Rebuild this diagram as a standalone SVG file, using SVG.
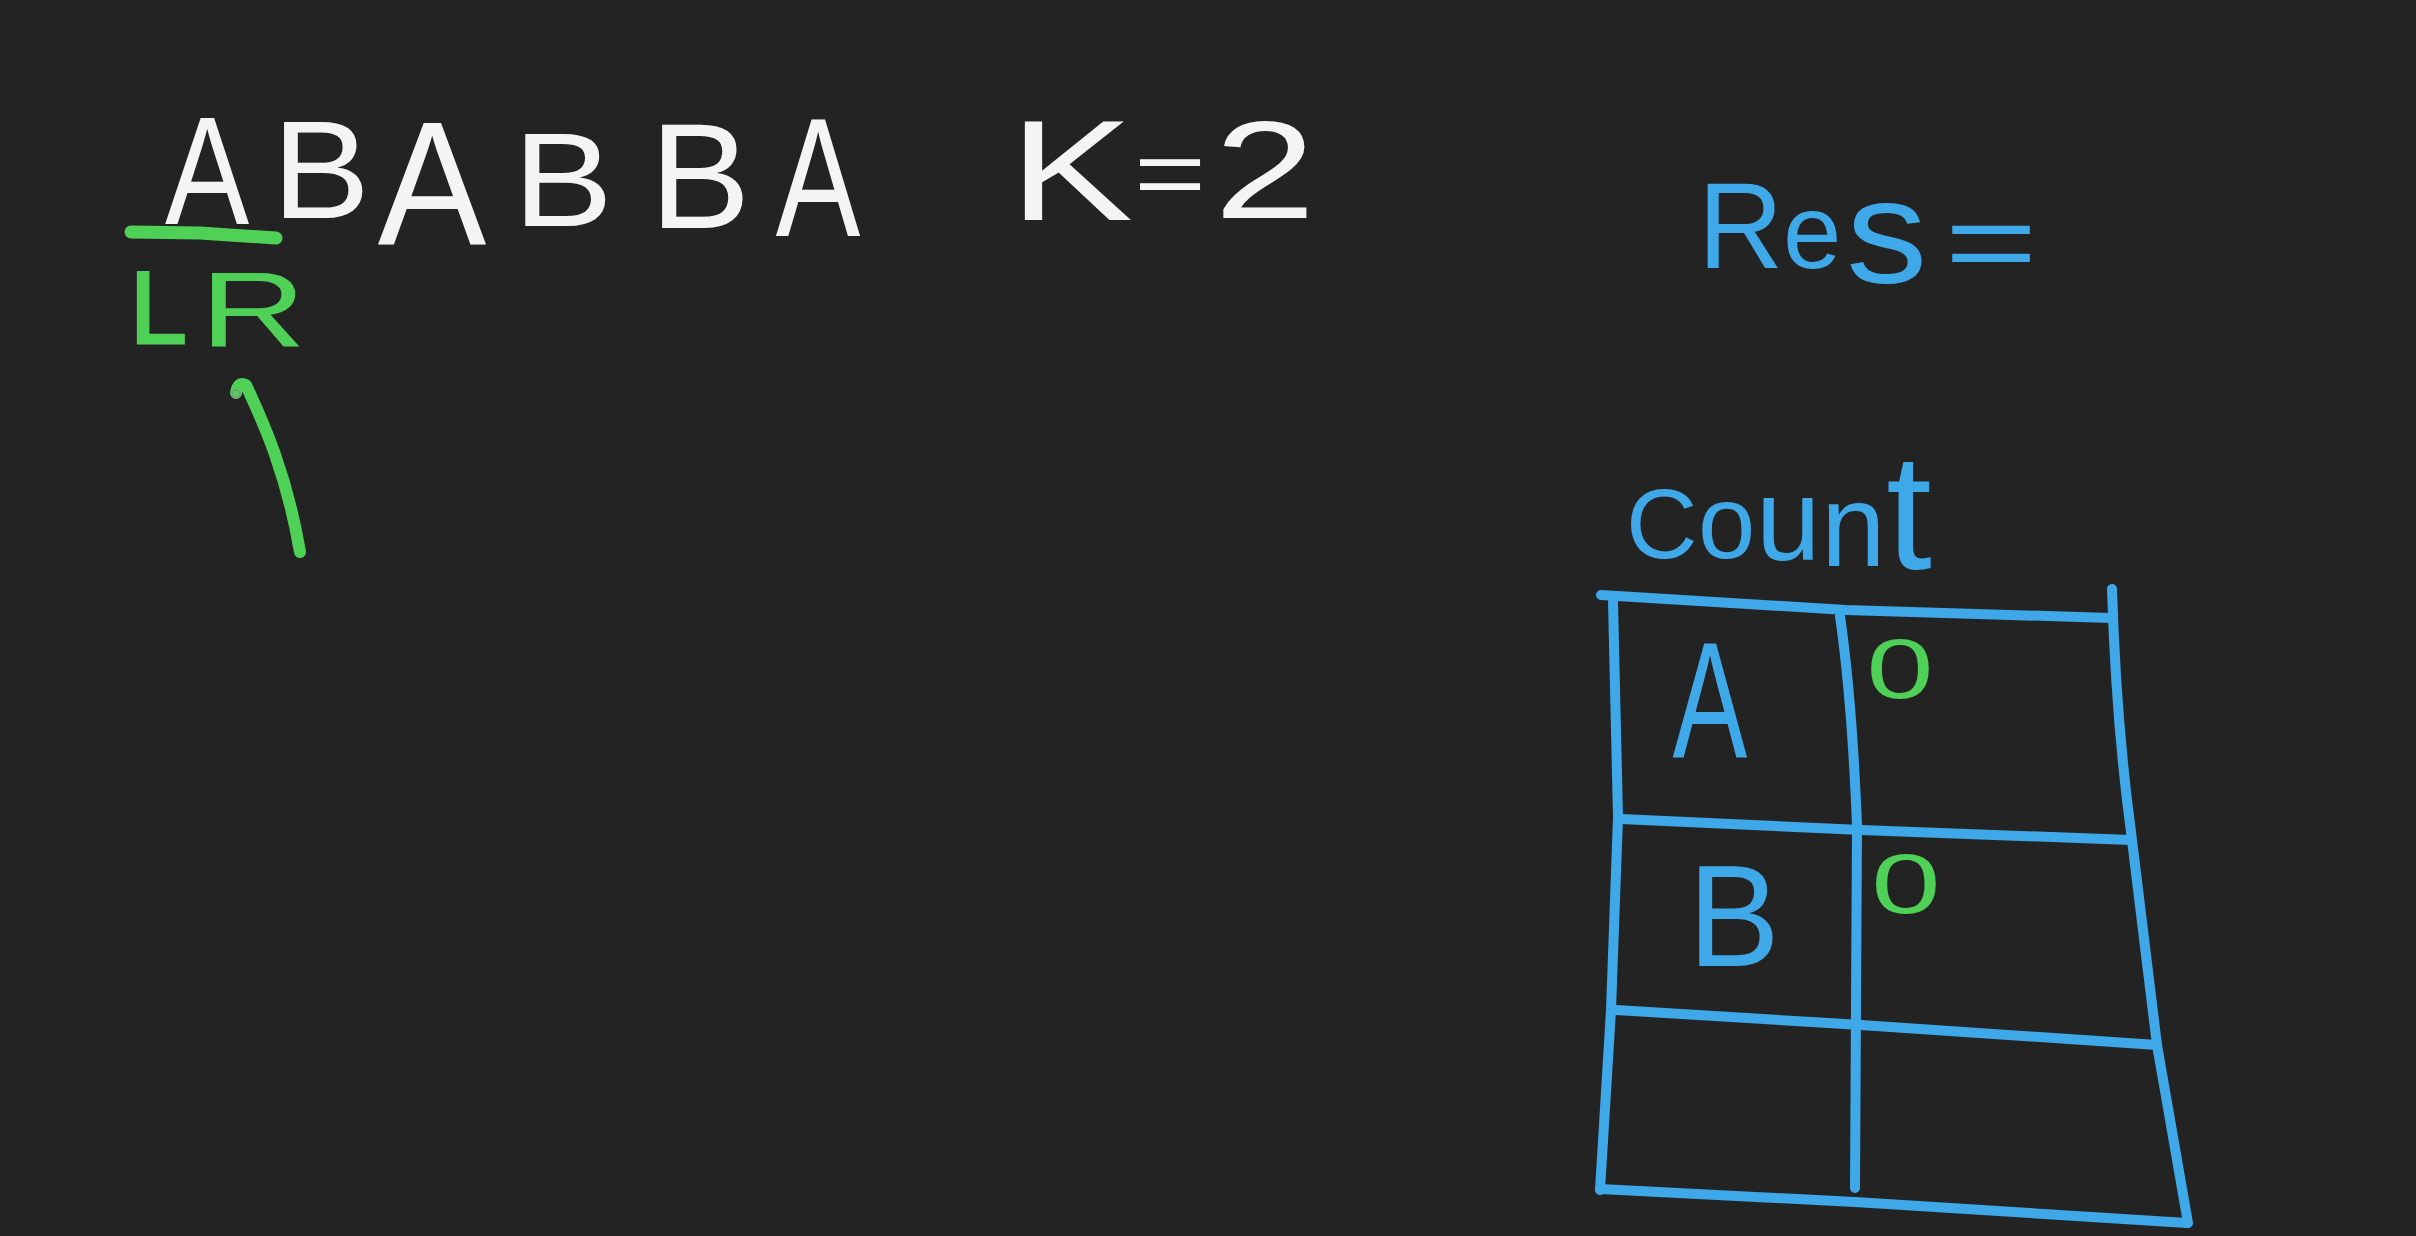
<svg xmlns="http://www.w3.org/2000/svg" width="2416" height="1236" viewBox="0 0 2416 1236">
<style>
text{font-family:"Liberation Sans",Arial,sans-serif;}
.w{fill:#f4f4f4;}
.g{fill:#4fd158;}
.b{fill:#3ea8e8;}
.ln{fill:none;stroke-linecap:round;stroke-linejoin:round;}
.bl{stroke:#3ea8e8;stroke-width:10;}
.gl{stroke:#4fd158;}
</style>
<rect x="0" y="0" width="2416" height="1236" fill="#232323"/>
<g id="string">
<text class="w" font-size="154" text-anchor="middle" transform="translate(207,224) scale(0.82,1)">A</text>
<text class="w" font-size="140" text-anchor="middle" transform="translate(321,218) scale(1.05,1)">B</text>
<text class="w" font-size="177" text-anchor="middle" transform="translate(432,245) scale(0.92,1)">A</text>
<text class="w" font-size="134" text-anchor="middle" transform="translate(563,226) scale(1.12,1)">B</text>
<text class="w" font-size="151" text-anchor="middle" transform="translate(700,228) scale(1.0,1)">B</text>
<text class="w" font-size="169" text-anchor="middle" transform="translate(818,236) scale(0.75,1)">A</text>
</g>
<g id="k-label">
<text class="w" transform="scale(1.3,1)" text-anchor="middle"><tspan x="824" y="220" font-size="142">K</tspan><tspan x="900" y="206" font-size="95">=</tspan><tspan x="973" y="218" font-size="140">2</tspan></text>
</g>
<g id="pointers">
<path class="ln gl" stroke-width="13" d="M131 232 L200 233 L276 238"/>
<text class="g" font-size="102" stroke="#4fd158" stroke-width="3" transform="translate(130,343)">L</text>
<text class="g" font-size="105" transform="translate(200,346) scale(1.4,1)">R</text>
</g>
<g id="res">
<text class="b" font-size="123" transform="translate(1698,268) scale(0.96,1)">R</text>
<text class="b" font-size="105" transform="translate(1783,268)">e</text>
<text class="b" font-size="148" transform="translate(1846,283) scale(1.1,1)">s</text>
<text class="b" font-size="114" text-anchor="middle" transform="translate(1991,281) scale(1.4,1)">=</text>
</g>
<g id="count-title">
<text class="b"><tspan x="1626" y="558" font-size="99">C</tspan><tspan x="1698" y="558" font-size="103">o</tspan><tspan x="1756" y="560" font-size="116">u</tspan><tspan x="1821" y="566" font-size="116">n</tspan><tspan x="1886" y="569" font-size="165">t</tspan></text>
</g>
<g id="count-table">
<path class="ln bl" d="M1601 595 L1846 610 L2111 618"/>
<path class="ln bl" d="M2112 589 Q2116 720 2131 832 L2157 1045 L2188 1223"/>
<path class="ln bl" d="M1613 602 L1618 817 L1611 1010 L1600 1190"/>
<path class="ln bl" d="M1840 616 Q1852 700 1857 825 L1855 1188"/>
<path class="ln bl" d="M1621 819 L1861 830 L2131 840"/>
<path class="ln bl" d="M1616 1010 L1861 1025 L2157 1045"/>
<path class="ln bl" d="M1600 1189 L1855 1202 L2187 1223"/>
</g>
<g id="cell-a">
<text class="b" font-size="165" text-anchor="middle" transform="translate(1710,757) scale(0.68,1)">A</text>
<text class="g" font-size="86" text-anchor="middle" transform="translate(1900,698) scale(1.4,1)">0</text>
</g>
<g id="cell-b">
<text class="b" font-size="145" transform="translate(1688,966) scale(0.95,1)">B</text>
<text class="g" font-size="86" text-anchor="middle" transform="translate(1906,913) scale(1.45,1)">0</text>
</g>
<g id="connectors">
<path class="ln gl" stroke-width="12" d="M236 393 Q238 381 246 385 C262 420 286 470 300 552"/>
<circle cx="236" cy="394" r="4" fill="none" stroke="#8a8a8a" stroke-width="1.5"/>
</g>
</svg>
